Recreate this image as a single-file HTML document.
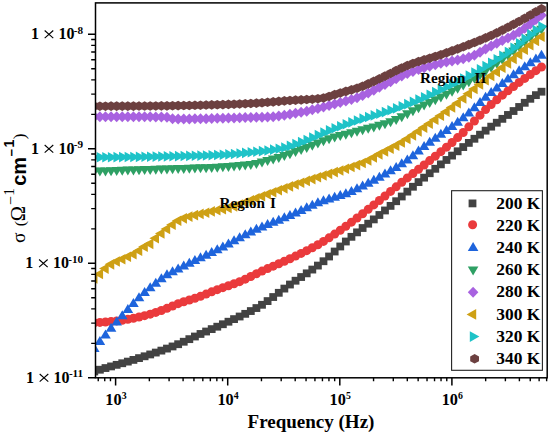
<!DOCTYPE html>
<html><head><meta charset="utf-8"><style>
html,body{margin:0;padding:0;background:#fff;}
body{width:550px;height:434px;overflow:hidden;}
svg{display:block;}
</style></head><body>
<svg width="550" height="434" viewBox="0 0 550 434" font-family="Liberation Serif" font-weight="bold">
<defs><clipPath id="c"><rect x="95.5" y="2.9" width="451.7" height="374.9"/></clipPath></defs>
<rect width="550" height="434" fill="#fff"/>
<g clip-path="url(#c)">
<g fill="#424242"><rect x="90.4" y="367.6" width="7.8" height="7.8"/><rect x="95.99" y="365.83" width="7.8" height="7.8"/><rect x="101.58" y="364.15" width="7.8" height="7.8"/><rect x="107.17" y="362.53" width="7.8" height="7.8"/><rect x="112.76" y="360.94" width="7.8" height="7.8"/><rect x="118.35" y="359.35" width="7.8" height="7.8"/><rect x="123.94" y="357.71" width="7.8" height="7.8"/><rect x="129.53" y="356" width="7.8" height="7.8"/><rect x="135.12" y="354.21" width="7.8" height="7.8"/><rect x="140.71" y="352.4" width="7.8" height="7.8"/><rect x="146.3" y="350.55" width="7.8" height="7.8"/><rect x="151.89" y="348.66" width="7.8" height="7.8"/><rect x="157.48" y="346.71" width="7.8" height="7.8"/><rect x="163.07" y="344.68" width="7.8" height="7.8"/><rect x="168.66" y="342.56" width="7.8" height="7.8"/><rect x="174.25" y="340.31" width="7.8" height="7.8"/><rect x="179.84" y="337.84" width="7.8" height="7.8"/><rect x="185.43" y="335.25" width="7.8" height="7.8"/><rect x="191.02" y="332.62" width="7.8" height="7.8"/><rect x="196.61" y="330.07" width="7.8" height="7.8"/><rect x="202.2" y="327.62" width="7.8" height="7.8"/><rect x="207.79" y="325.21" width="7.8" height="7.8"/><rect x="213.38" y="322.8" width="7.8" height="7.8"/><rect x="218.97" y="320.35" width="7.8" height="7.8"/><rect x="224.56" y="317.82" width="7.8" height="7.8"/><rect x="230.15" y="315.21" width="7.8" height="7.8"/><rect x="235.74" y="312.61" width="7.8" height="7.8"/><rect x="241.33" y="309.94" width="7.8" height="7.8"/><rect x="246.92" y="307.15" width="7.8" height="7.8"/><rect x="252.51" y="304.15" width="7.8" height="7.8"/><rect x="258.1" y="300.89" width="7.8" height="7.8"/><rect x="263.69" y="297.18" width="7.8" height="7.8"/><rect x="269.28" y="293.13" width="7.8" height="7.8"/><rect x="274.87" y="288.91" width="7.8" height="7.8"/><rect x="280.46" y="284.69" width="7.8" height="7.8"/><rect x="286.05" y="280.63" width="7.8" height="7.8"/><rect x="291.64" y="276.82" width="7.8" height="7.8"/><rect x="297.23" y="273.13" width="7.8" height="7.8"/><rect x="302.82" y="269.45" width="7.8" height="7.8"/><rect x="308.41" y="265.67" width="7.8" height="7.8"/><rect x="314" y="261.68" width="7.8" height="7.8"/><rect x="319.59" y="257.34" width="7.8" height="7.8"/><rect x="325.18" y="252.6" width="7.8" height="7.8"/><rect x="330.77" y="247.62" width="7.8" height="7.8"/><rect x="336.36" y="242.57" width="7.8" height="7.8"/><rect x="341.95" y="237.61" width="7.8" height="7.8"/><rect x="347.54" y="232.92" width="7.8" height="7.8"/><rect x="353.13" y="228.46" width="7.8" height="7.8"/><rect x="358.72" y="224.11" width="7.8" height="7.8"/><rect x="364.31" y="219.82" width="7.8" height="7.8"/><rect x="369.9" y="215.5" width="7.8" height="7.8"/><rect x="375.49" y="211.09" width="7.8" height="7.8"/><rect x="381.08" y="206.57" width="7.8" height="7.8"/><rect x="386.67" y="201.98" width="7.8" height="7.8"/><rect x="392.26" y="197.33" width="7.8" height="7.8"/><rect x="397.85" y="192.6" width="7.8" height="7.8"/><rect x="403.44" y="187.71" width="7.8" height="7.8"/><rect x="409.03" y="182.85" width="7.8" height="7.8"/><rect x="414.62" y="178.21" width="7.8" height="7.8"/><rect x="420.21" y="173.75" width="7.8" height="7.8"/><rect x="425.8" y="169.34" width="7.8" height="7.8"/><rect x="431.39" y="164.9" width="7.8" height="7.8"/><rect x="436.98" y="160.47" width="7.8" height="7.8"/><rect x="442.57" y="156.06" width="7.8" height="7.8"/><rect x="448.16" y="151.69" width="7.8" height="7.8"/><rect x="453.75" y="147.39" width="7.8" height="7.8"/><rect x="459.34" y="143.16" width="7.8" height="7.8"/><rect x="464.93" y="138.99" width="7.8" height="7.8"/><rect x="470.52" y="134.87" width="7.8" height="7.8"/><rect x="476.11" y="130.79" width="7.8" height="7.8"/><rect x="481.7" y="126.76" width="7.8" height="7.8"/><rect x="487.29" y="122.75" width="7.8" height="7.8"/><rect x="492.88" y="118.82" width="7.8" height="7.8"/><rect x="498.47" y="114.94" width="7.8" height="7.8"/><rect x="504.06" y="111.06" width="7.8" height="7.8"/><rect x="509.65" y="107.13" width="7.8" height="7.8"/><rect x="515.24" y="103.07" width="7.8" height="7.8"/><rect x="520.83" y="98.89" width="7.8" height="7.8"/><rect x="526.42" y="94.89" width="7.8" height="7.8"/><rect x="532.01" y="91.24" width="7.8" height="7.8"/><rect x="537.6" y="87.81" width="7.8" height="7.8"/></g>
<g fill="#ea3a3c"><circle cx="94.3" cy="322.8" r="4.5"/><circle cx="99.89" cy="322.44" r="4.5"/><circle cx="105.48" cy="322.01" r="4.5"/><circle cx="111.07" cy="321.49" r="4.5"/><circle cx="116.66" cy="320.9" r="4.5"/><circle cx="122.25" cy="320.2" r="4.5"/><circle cx="127.84" cy="319.31" r="4.5"/><circle cx="133.43" cy="318.24" r="4.5"/><circle cx="139.02" cy="317.02" r="4.5"/><circle cx="144.61" cy="315.69" r="4.5"/><circle cx="150.2" cy="314.19" r="4.5"/><circle cx="155.79" cy="312.43" r="4.5"/><circle cx="161.38" cy="310.51" r="4.5"/><circle cx="166.97" cy="308.31" r="4.5"/><circle cx="172.56" cy="305.95" r="4.5"/><circle cx="178.15" cy="303.69" r="4.5"/><circle cx="183.74" cy="301.72" r="4.5"/><circle cx="189.33" cy="299.96" r="4.5"/><circle cx="194.92" cy="298.22" r="4.5"/><circle cx="200.51" cy="296.31" r="4.5"/><circle cx="206.1" cy="294.12" r="4.5"/><circle cx="211.69" cy="291.81" r="4.5"/><circle cx="217.28" cy="289.65" r="4.5"/><circle cx="222.87" cy="287.68" r="4.5"/><circle cx="228.46" cy="285.77" r="4.5"/><circle cx="234.05" cy="283.8" r="4.5"/><circle cx="239.64" cy="281.65" r="4.5"/><circle cx="245.23" cy="279.18" r="4.5"/><circle cx="250.82" cy="276.46" r="4.5"/><circle cx="256.41" cy="273.7" r="4.5"/><circle cx="262" cy="271.09" r="4.5"/><circle cx="267.59" cy="268.61" r="4.5"/><circle cx="273.18" cy="266.19" r="4.5"/><circle cx="278.77" cy="263.77" r="4.5"/><circle cx="284.36" cy="261.3" r="4.5"/><circle cx="289.95" cy="258.72" r="4.5"/><circle cx="295.54" cy="256.08" r="4.5"/><circle cx="301.13" cy="253.4" r="4.5"/><circle cx="306.72" cy="250.64" r="4.5"/><circle cx="312.31" cy="247.76" r="4.5"/><circle cx="317.9" cy="244.7" r="4.5"/><circle cx="323.49" cy="241.42" r="4.5"/><circle cx="329.08" cy="237.87" r="4.5"/><circle cx="334.67" cy="234.11" r="4.5"/><circle cx="340.26" cy="230.2" r="4.5"/><circle cx="345.85" cy="226.2" r="4.5"/><circle cx="351.44" cy="222.16" r="4.5"/><circle cx="357.03" cy="218" r="4.5"/><circle cx="362.62" cy="213.72" r="4.5"/><circle cx="368.21" cy="209.35" r="4.5"/><circle cx="373.8" cy="204.93" r="4.5"/><circle cx="379.39" cy="200.48" r="4.5"/><circle cx="384.98" cy="195.99" r="4.5"/><circle cx="390.57" cy="191.41" r="4.5"/><circle cx="396.16" cy="186.82" r="4.5"/><circle cx="401.75" cy="182.3" r="4.5"/><circle cx="407.34" cy="177.9" r="4.5"/><circle cx="412.93" cy="173.61" r="4.5"/><circle cx="418.52" cy="169.33" r="4.5"/><circle cx="424.11" cy="165" r="4.5"/><circle cx="429.7" cy="160.56" r="4.5"/><circle cx="435.29" cy="156.13" r="4.5"/><circle cx="440.88" cy="151.67" r="4.5"/><circle cx="446.47" cy="147.13" r="4.5"/><circle cx="452.06" cy="142.46" r="4.5"/><circle cx="457.65" cy="137.61" r="4.5"/><circle cx="463.24" cy="132.47" r="4.5"/><circle cx="468.83" cy="126.87" r="4.5"/><circle cx="474.42" cy="121.03" r="4.5"/><circle cx="480.01" cy="115.18" r="4.5"/><circle cx="485.6" cy="109.58" r="4.5"/><circle cx="491.19" cy="104.45" r="4.5"/><circle cx="496.78" cy="99.7" r="4.5"/><circle cx="502.37" cy="95.17" r="4.5"/><circle cx="507.96" cy="90.81" r="4.5"/><circle cx="513.55" cy="86.59" r="4.5"/><circle cx="519.14" cy="82.44" r="4.5"/><circle cx="524.73" cy="78.38" r="4.5"/><circle cx="530.32" cy="74.45" r="4.5"/><circle cx="535.91" cy="70.64" r="4.5"/><circle cx="541.5" cy="66.98" r="4.5"/></g>
<g fill="#1e64dc"><path d="M94.3 343 L99.6 352 L89 352 Z"/><path d="M99.89 336.07 L105.19 345.07 L94.59 345.07 Z"/><path d="M105.48 329.49 L110.78 338.49 L100.18 338.49 Z"/><path d="M111.07 322.79 L116.37 331.79 L105.77 331.79 Z"/><path d="M116.66 316.43 L121.96 325.43 L111.36 325.43 Z"/><path d="M122.25 310.22 L127.55 319.22 L116.95 319.22 Z"/><path d="M127.84 304.04 L133.14 313.04 L122.54 313.04 Z"/><path d="M133.43 298.05 L138.73 307.05 L128.13 307.05 Z"/><path d="M139.02 292.29 L144.32 301.29 L133.72 301.29 Z"/><path d="M144.61 286.95 L149.91 295.95 L139.31 295.95 Z"/><path d="M150.2 282.23 L155.5 291.23 L144.9 291.23 Z"/><path d="M155.79 277.77 L161.09 286.77 L150.49 286.77 Z"/><path d="M161.38 273.21 L166.68 282.21 L156.08 282.21 Z"/><path d="M166.97 269.21 L172.27 278.21 L161.67 278.21 Z"/><path d="M172.56 266.23 L177.86 275.23 L167.26 275.23 Z"/><path d="M178.15 263.38 L183.45 272.38 L172.85 272.38 Z"/><path d="M183.74 260.56 L189.04 269.56 L178.44 269.56 Z"/><path d="M189.33 257.78 L194.63 266.78 L184.03 266.78 Z"/><path d="M194.92 255.04 L200.22 264.04 L189.62 264.04 Z"/><path d="M200.51 252.37 L205.81 261.37 L195.21 261.37 Z"/><path d="M206.1 249.76 L211.4 258.76 L200.8 258.76 Z"/><path d="M211.69 247.12 L216.99 256.12 L206.39 256.12 Z"/><path d="M217.28 244.35 L222.58 253.35 L211.98 253.35 Z"/><path d="M222.87 241.44 L228.17 250.44 L217.57 250.44 Z"/><path d="M228.46 238.42 L233.76 247.42 L223.16 247.42 Z"/><path d="M234.05 235.35 L239.35 244.35 L228.75 244.35 Z"/><path d="M239.64 232.3 L244.94 241.3 L234.34 241.3 Z"/><path d="M245.23 229.33 L250.53 238.33 L239.93 238.33 Z"/><path d="M250.82 226.49 L256.12 235.49 L245.52 235.49 Z"/><path d="M256.41 223.85 L261.71 232.85 L251.11 232.85 Z"/><path d="M262 221.41 L267.3 230.41 L256.7 230.41 Z"/><path d="M267.59 219.09 L272.89 228.09 L262.29 228.09 Z"/><path d="M273.18 216.85 L278.48 225.85 L267.88 225.85 Z"/><path d="M278.77 214.63 L284.07 223.63 L273.47 223.63 Z"/><path d="M284.36 212.37 L289.66 221.37 L279.06 221.37 Z"/><path d="M289.95 210.02 L295.25 219.02 L284.65 219.02 Z"/><path d="M295.54 207.51 L300.84 216.51 L290.24 216.51 Z"/><path d="M301.13 204.88 L306.43 213.88 L295.83 213.88 Z"/><path d="M306.72 202.24 L312.02 211.24 L301.42 211.24 Z"/><path d="M312.31 199.68 L317.61 208.68 L307.01 208.68 Z"/><path d="M317.9 197.32 L323.2 206.32 L312.6 206.32 Z"/><path d="M323.49 195.25 L328.79 204.25 L318.19 204.25 Z"/><path d="M329.08 193.46 L334.38 202.46 L323.78 202.46 Z"/><path d="M334.67 191.79 L339.97 200.79 L329.37 200.79 Z"/><path d="M340.26 190.08 L345.56 199.08 L334.96 199.08 Z"/><path d="M345.85 188.17 L351.15 197.17 L340.55 197.17 Z"/><path d="M351.44 185.91 L356.74 194.91 L346.14 194.91 Z"/><path d="M357.03 183.35 L362.33 192.35 L351.73 192.35 Z"/><path d="M362.62 180.57 L367.92 189.57 L357.32 189.57 Z"/><path d="M368.21 177.64 L373.51 186.64 L362.91 186.64 Z"/><path d="M373.8 174.64 L379.1 183.64 L368.5 183.64 Z"/><path d="M379.39 171.63 L384.69 180.63 L374.09 180.63 Z"/><path d="M384.98 168.52 L390.28 177.52 L379.68 177.52 Z"/><path d="M390.57 165.3 L395.87 174.3 L385.27 174.3 Z"/><path d="M396.16 161.92 L401.46 170.92 L390.86 170.92 Z"/><path d="M401.75 158.33 L407.05 167.33 L396.45 167.33 Z"/><path d="M407.34 154.43 L412.64 163.43 L402.04 163.43 Z"/><path d="M412.93 150.13 L418.23 159.13 L407.63 159.13 Z"/><path d="M418.52 145.61 L423.82 154.61 L413.22 154.61 Z"/><path d="M424.11 141.08 L429.41 150.08 L418.81 150.08 Z"/><path d="M429.7 136.72 L435 145.72 L424.4 145.72 Z"/><path d="M435.29 132.66 L440.59 141.66 L429.99 141.66 Z"/><path d="M440.88 128.78 L446.18 137.78 L435.58 137.78 Z"/><path d="M446.47 124.93 L451.77 133.93 L441.17 133.93 Z"/><path d="M452.06 120.99 L457.36 129.99 L446.76 129.99 Z"/><path d="M457.65 116.84 L462.95 125.84 L452.35 125.84 Z"/><path d="M463.24 112.33 L468.54 121.33 L457.94 121.33 Z"/><path d="M468.83 107.39 L474.13 116.39 L463.53 116.39 Z"/><path d="M474.42 102.2 L479.72 111.2 L469.12 111.2 Z"/><path d="M480.01 96.94 L485.31 105.94 L474.71 105.94 Z"/><path d="M485.6 91.82 L490.9 100.82 L480.3 100.82 Z"/><path d="M491.19 87.01 L496.49 96.01 L485.89 96.01 Z"/><path d="M496.78 82.41 L502.08 91.41 L491.48 91.41 Z"/><path d="M502.37 77.93 L507.67 86.93 L497.07 86.93 Z"/><path d="M507.96 73.56 L513.26 82.56 L502.66 82.56 Z"/><path d="M513.55 69.31 L518.85 78.31 L508.25 78.31 Z"/><path d="M519.14 65.16 L524.44 74.16 L513.84 74.16 Z"/><path d="M524.73 61.13 L530.03 70.13 L519.43 70.13 Z"/><path d="M530.32 57.21 L535.62 66.21 L525.02 66.21 Z"/><path d="M535.91 53.39 L541.21 62.39 L530.61 62.39 Z"/><path d="M541.5 49.66 L546.8 58.66 L536.2 58.66 Z"/></g>
<g fill="#2ea064"><path d="M94.3 176.83 L99.6 167.83 L89 167.83 Z"/><path d="M99.89 176.6 L105.19 167.6 L94.59 167.6 Z"/><path d="M105.48 176.39 L110.78 167.39 L100.18 167.39 Z"/><path d="M111.07 176.18 L116.37 167.18 L105.77 167.18 Z"/><path d="M116.66 175.98 L121.96 166.98 L111.36 166.98 Z"/><path d="M122.25 175.79 L127.55 166.79 L116.95 166.79 Z"/><path d="M127.84 175.61 L133.14 166.61 L122.54 166.61 Z"/><path d="M133.43 175.43 L138.73 166.43 L128.13 166.43 Z"/><path d="M139.02 175.26 L144.32 166.26 L133.72 166.26 Z"/><path d="M144.61 175.1 L149.91 166.1 L139.31 166.1 Z"/><path d="M150.2 174.94 L155.5 165.94 L144.9 165.94 Z"/><path d="M155.79 174.77 L161.09 165.77 L150.49 165.77 Z"/><path d="M161.38 174.61 L166.68 165.61 L156.08 165.61 Z"/><path d="M166.97 174.45 L172.27 165.45 L161.67 165.45 Z"/><path d="M172.56 174.28 L177.86 165.28 L167.26 165.28 Z"/><path d="M178.15 174.1 L183.45 165.1 L172.85 165.1 Z"/><path d="M183.74 173.92 L189.04 164.92 L178.44 164.92 Z"/><path d="M189.33 173.72 L194.63 164.72 L184.03 164.72 Z"/><path d="M194.92 173.53 L200.22 164.53 L189.62 164.53 Z"/><path d="M200.51 173.33 L205.81 164.33 L195.21 164.33 Z"/><path d="M206.1 173.13 L211.4 164.13 L200.8 164.13 Z"/><path d="M211.69 172.9 L216.99 163.9 L206.39 163.9 Z"/><path d="M217.28 172.64 L222.58 163.64 L211.98 163.64 Z"/><path d="M222.87 172.34 L228.17 163.34 L217.57 163.34 Z"/><path d="M228.46 172 L233.76 163 L223.16 163 Z"/><path d="M234.05 171.59 L239.35 162.59 L228.75 162.59 Z"/><path d="M239.64 171.12 L244.94 162.12 L234.34 162.12 Z"/><path d="M245.23 170.56 L250.53 161.56 L239.93 161.56 Z"/><path d="M250.82 169.89 L256.12 160.89 L245.52 160.89 Z"/><path d="M256.41 168.92 L261.71 159.92 L251.11 159.92 Z"/><path d="M262 167.62 L267.3 158.62 L256.7 158.62 Z"/><path d="M267.59 166.11 L272.89 157.11 L262.29 157.11 Z"/><path d="M273.18 164.52 L278.48 155.52 L267.88 155.52 Z"/><path d="M278.77 162.89 L284.07 153.89 L273.47 153.89 Z"/><path d="M284.36 161.08 L289.66 152.08 L279.06 152.08 Z"/><path d="M289.95 159.13 L295.25 150.13 L284.65 150.13 Z"/><path d="M295.54 157.11 L300.84 148.11 L290.24 148.11 Z"/><path d="M301.13 155.09 L306.43 146.09 L295.83 146.09 Z"/><path d="M306.72 152.94 L312.02 143.94 L301.42 143.94 Z"/><path d="M312.31 150.68 L317.61 141.68 L307.01 141.68 Z"/><path d="M317.9 148.41 L323.2 139.41 L312.6 139.41 Z"/><path d="M323.49 146.25 L328.79 137.25 L318.19 137.25 Z"/><path d="M329.08 144.29 L334.38 135.29 L323.78 135.29 Z"/><path d="M334.67 142.6 L339.97 133.6 L329.37 133.6 Z"/><path d="M340.26 141.07 L345.56 132.07 L334.96 132.07 Z"/><path d="M345.85 139.64 L351.15 130.64 L340.55 130.64 Z"/><path d="M351.44 138.23 L356.74 129.23 L346.14 129.23 Z"/><path d="M357.03 136.8 L362.33 127.8 L351.73 127.8 Z"/><path d="M362.62 135.29 L367.92 126.29 L357.32 126.29 Z"/><path d="M368.21 133.84 L373.51 124.84 L362.91 124.84 Z"/><path d="M373.8 132.39 L379.1 123.39 L368.5 123.39 Z"/><path d="M379.39 130.87 L384.69 121.87 L374.09 121.87 Z"/><path d="M384.98 129.2 L390.28 120.2 L379.68 120.2 Z"/><path d="M390.57 127.29 L395.87 118.29 L385.27 118.29 Z"/><path d="M396.16 124.95 L401.46 115.95 L390.86 115.95 Z"/><path d="M401.75 122.2 L407.05 113.2 L396.45 113.2 Z"/><path d="M407.34 119.21 L412.64 110.21 L402.04 110.21 Z"/><path d="M412.93 116.17 L418.23 107.17 L407.63 107.17 Z"/><path d="M418.52 113.24 L423.82 104.24 L413.22 104.24 Z"/><path d="M424.11 110.52 L429.41 101.52 L418.81 101.52 Z"/><path d="M429.7 107.89 L435 98.89 L424.4 98.89 Z"/><path d="M435.29 105.27 L440.59 96.27 L429.99 96.27 Z"/><path d="M440.88 102.58 L446.18 93.58 L435.58 93.58 Z"/><path d="M446.47 99.74 L451.77 90.74 L441.17 90.74 Z"/><path d="M452.06 96.77 L457.36 87.77 L446.76 87.77 Z"/><path d="M457.65 93.7 L462.95 84.7 L452.35 84.7 Z"/><path d="M463.24 90.51 L468.54 81.51 L457.94 81.51 Z"/><path d="M468.83 87.21 L474.13 78.21 L463.53 78.21 Z"/><path d="M474.42 83.77 L479.72 74.77 L469.12 74.77 Z"/><path d="M480.01 80.2 L485.31 71.2 L474.71 71.2 Z"/><path d="M485.6 76.5 L490.9 67.5 L480.3 67.5 Z"/><path d="M491.19 72.71 L496.49 63.71 L485.89 63.71 Z"/><path d="M496.78 68.83 L502.08 59.83 L491.48 59.83 Z"/><path d="M502.37 64.88 L507.67 55.88 L497.07 55.88 Z"/><path d="M507.96 60.84 L513.26 51.84 L502.66 51.84 Z"/><path d="M513.55 56.56 L518.85 47.56 L508.25 47.56 Z"/><path d="M519.14 52.11 L524.44 43.11 L513.84 43.11 Z"/><path d="M524.73 47.59 L530.03 38.59 L519.43 38.59 Z"/><path d="M530.32 43.12 L535.62 34.12 L525.02 34.12 Z"/><path d="M535.91 38.79 L541.21 29.79 L530.61 29.79 Z"/><path d="M541.5 34.72 L546.8 25.72 L536.2 25.72 Z"/></g>
<g fill="#a862e0"><path d="M94.3 111.2 L99.6 116.7 L94.3 122.2 L89 116.7 Z"/><path d="M99.89 111.2 L105.19 116.7 L99.89 122.2 L94.59 116.7 Z"/><path d="M105.48 111.21 L110.78 116.71 L105.48 122.21 L100.18 116.71 Z"/><path d="M111.07 111.21 L116.37 116.71 L111.07 122.21 L105.77 116.71 Z"/><path d="M116.66 111.22 L121.96 116.72 L116.66 122.22 L111.36 116.72 Z"/><path d="M122.25 111.24 L127.55 116.74 L122.25 122.24 L116.95 116.74 Z"/><path d="M127.84 111.25 L133.14 116.75 L127.84 122.25 L122.54 116.75 Z"/><path d="M133.43 111.28 L138.73 116.78 L133.43 122.28 L128.13 116.78 Z"/><path d="M139.02 111.3 L144.32 116.8 L139.02 122.3 L133.72 116.8 Z"/><path d="M144.61 111.33 L149.91 116.83 L144.61 122.33 L139.31 116.83 Z"/><path d="M150.2 111.37 L155.5 116.87 L150.2 122.37 L144.9 116.87 Z"/><path d="M155.79 111.41 L161.09 116.91 L155.79 122.41 L150.49 116.91 Z"/><path d="M161.38 111.46 L166.68 116.96 L161.38 122.46 L156.08 116.96 Z"/><path d="M166.97 111.72 L172.27 117.22 L166.97 122.72 L161.67 117.22 Z"/><path d="M172.56 113.21 L177.86 118.71 L172.56 124.21 L167.26 118.71 Z"/><path d="M178.15 113.5 L183.45 119 L178.15 124.5 L172.85 119 Z"/><path d="M183.74 113.47 L189.04 118.97 L183.74 124.47 L178.44 118.97 Z"/><path d="M189.33 113.41 L194.63 118.91 L189.33 124.41 L184.03 118.91 Z"/><path d="M194.92 113.34 L200.22 118.84 L194.92 124.34 L189.62 118.84 Z"/><path d="M200.51 113.24 L205.81 118.74 L200.51 124.24 L195.21 118.74 Z"/><path d="M206.1 113.13 L211.4 118.63 L206.1 124.13 L200.8 118.63 Z"/><path d="M211.69 113 L216.99 118.5 L211.69 124 L206.39 118.5 Z"/><path d="M217.28 112.87 L222.58 118.37 L217.28 123.87 L211.98 118.37 Z"/><path d="M222.87 112.72 L228.17 118.22 L222.87 123.72 L217.57 118.22 Z"/><path d="M228.46 112.57 L233.76 118.07 L228.46 123.57 L223.16 118.07 Z"/><path d="M234.05 112.42 L239.35 117.92 L234.05 123.42 L228.75 117.92 Z"/><path d="M239.64 112.27 L244.94 117.77 L239.64 123.27 L234.34 117.77 Z"/><path d="M245.23 112.12 L250.53 117.62 L245.23 123.12 L239.93 117.62 Z"/><path d="M250.82 111.98 L256.12 117.48 L250.82 122.98 L245.52 117.48 Z"/><path d="M256.41 111.85 L261.71 117.35 L256.41 122.85 L251.11 117.35 Z"/><path d="M262 111.7 L267.3 117.2 L262 122.7 L256.7 117.2 Z"/><path d="M267.59 111.51 L272.89 117.01 L267.59 122.51 L262.29 117.01 Z"/><path d="M273.18 111.2 L278.48 116.7 L273.18 122.2 L267.88 116.7 Z"/><path d="M278.77 110.61 L284.07 116.11 L278.77 121.61 L273.47 116.11 Z"/><path d="M284.36 109.81 L289.66 115.31 L284.36 120.81 L279.06 115.31 Z"/><path d="M289.95 108.86 L295.25 114.36 L289.95 119.86 L284.65 114.36 Z"/><path d="M295.54 107.83 L300.84 113.33 L295.54 118.83 L290.24 113.33 Z"/><path d="M301.13 106.79 L306.43 112.29 L301.13 117.79 L295.83 112.29 Z"/><path d="M306.72 105.63 L312.02 111.13 L306.72 116.63 L301.42 111.13 Z"/><path d="M312.31 104.32 L317.61 109.82 L312.31 115.32 L307.01 109.82 Z"/><path d="M317.9 102.91 L323.2 108.41 L317.9 113.91 L312.6 108.41 Z"/><path d="M323.49 101.43 L328.79 106.93 L323.49 112.43 L318.19 106.93 Z"/><path d="M329.08 99.94 L334.38 105.44 L329.08 110.94 L323.78 105.44 Z"/><path d="M334.67 98.49 L339.97 103.99 L334.67 109.49 L329.37 103.99 Z"/><path d="M340.26 97.04 L345.56 102.54 L340.26 108.04 L334.96 102.54 Z"/><path d="M345.85 95.55 L351.15 101.05 L345.85 106.55 L340.55 101.05 Z"/><path d="M351.44 93.94 L356.74 99.44 L351.44 104.94 L346.14 99.44 Z"/><path d="M357.03 92.15 L362.33 97.65 L357.03 103.15 L351.73 97.65 Z"/><path d="M362.62 90.07 L367.92 95.57 L362.62 101.07 L357.32 95.57 Z"/><path d="M368.21 87.49 L373.51 92.99 L368.21 98.49 L362.91 92.99 Z"/><path d="M373.8 84.63 L379.1 90.13 L373.8 95.63 L368.5 90.13 Z"/><path d="M379.39 81.8 L384.69 87.3 L379.39 92.8 L374.09 87.3 Z"/><path d="M384.98 79.02 L390.28 84.52 L384.98 90.02 L379.68 84.52 Z"/><path d="M390.57 76.13 L395.87 81.63 L390.57 87.13 L385.27 81.63 Z"/><path d="M396.16 73.24 L401.46 78.74 L396.16 84.24 L390.86 78.74 Z"/><path d="M401.75 70.5 L407.05 76 L401.75 81.5 L396.45 76 Z"/><path d="M407.34 68.04 L412.64 73.54 L407.34 79.04 L402.04 73.54 Z"/><path d="M412.93 65.94 L418.23 71.44 L412.93 76.94 L407.63 71.44 Z"/><path d="M418.52 64.05 L423.82 69.55 L418.52 75.05 L413.22 69.55 Z"/><path d="M424.11 62.32 L429.41 67.82 L424.11 73.32 L418.81 67.82 Z"/><path d="M429.7 60.71 L435 66.21 L429.7 71.71 L424.4 66.21 Z"/><path d="M435.29 59.21 L440.59 64.71 L435.29 70.21 L429.99 64.71 Z"/><path d="M440.88 57.78 L446.18 63.28 L440.88 68.78 L435.58 63.28 Z"/><path d="M446.47 56.57 L451.77 62.07 L446.47 67.57 L441.17 62.07 Z"/><path d="M452.06 55.52 L457.36 61.02 L452.06 66.52 L446.76 61.02 Z"/><path d="M457.65 54.49 L462.95 59.99 L457.65 65.49 L452.35 59.99 Z"/><path d="M463.24 53.32 L468.54 58.82 L463.24 64.32 L457.94 58.82 Z"/><path d="M468.83 51.86 L474.13 57.36 L468.83 62.86 L463.53 57.36 Z"/><path d="M474.42 49.73 L479.72 55.23 L474.42 60.73 L469.12 55.23 Z"/><path d="M480.01 46.74 L485.31 52.24 L480.01 57.74 L474.71 52.24 Z"/><path d="M485.6 43.44 L490.9 48.94 L485.6 54.44 L480.3 48.94 Z"/><path d="M491.19 40.4 L496.49 45.9 L491.19 51.4 L485.89 45.9 Z"/><path d="M496.78 37.68 L502.08 43.18 L496.78 48.68 L491.48 43.18 Z"/><path d="M502.37 35.07 L507.67 40.57 L502.37 46.07 L497.07 40.57 Z"/><path d="M507.96 32.43 L513.26 37.93 L507.96 43.43 L502.66 37.93 Z"/><path d="M513.55 29.63 L518.85 35.13 L513.55 40.63 L508.25 35.13 Z"/><path d="M519.14 26.51 L524.44 32.01 L519.14 37.51 L513.84 32.01 Z"/><path d="M524.73 22.83 L530.03 28.33 L524.73 33.83 L519.43 28.33 Z"/><path d="M530.32 18.54 L535.62 24.04 L530.32 29.54 L525.02 24.04 Z"/><path d="M535.91 14.04 L541.21 19.54 L535.91 25.04 L530.61 19.54 Z"/><path d="M541.5 9.74 L546.8 15.24 L541.5 20.74 L536.2 15.24 Z"/></g>
<g fill="#cea014"><path d="M87.9 278.5 L97.5 273.2 L97.5 283.8 Z"/><path d="M93.49 273.97 L103.09 268.67 L103.09 279.27 Z"/><path d="M99.08 268.58 L108.68 263.28 L108.68 273.88 Z"/><path d="M104.67 264.36 L114.27 259.06 L114.27 269.66 Z"/><path d="M110.26 261.57 L119.86 256.27 L119.86 266.87 Z"/><path d="M115.85 259.21 L125.45 253.91 L125.45 264.51 Z"/><path d="M121.44 256.77 L131.04 251.47 L131.04 262.07 Z"/><path d="M127.03 254.31 L136.63 249.01 L136.63 259.61 Z"/><path d="M132.62 250.78 L142.22 245.48 L142.22 256.08 Z"/><path d="M138.21 246.73 L147.81 241.43 L147.81 252.03 Z"/><path d="M143.8 243.86 L153.4 238.56 L153.4 249.16 Z"/><path d="M149.39 238.27 L158.99 232.97 L158.99 243.57 Z"/><path d="M154.98 233.43 L164.58 228.13 L164.58 238.73 Z"/><path d="M160.57 228.94 L170.17 223.64 L170.17 234.24 Z"/><path d="M166.16 224.72 L175.76 219.42 L175.76 230.02 Z"/><path d="M171.75 220.8 L181.35 215.5 L181.35 226.1 Z"/><path d="M177.34 218.36 L186.94 213.06 L186.94 223.66 Z"/><path d="M182.93 216.58 L192.53 211.28 L192.53 221.88 Z"/><path d="M188.52 215.14 L198.12 209.84 L198.12 220.44 Z"/><path d="M194.11 213.89 L203.71 208.59 L203.71 219.19 Z"/><path d="M199.7 212.68 L209.3 207.38 L209.3 217.98 Z"/><path d="M205.29 211.41 L214.89 206.11 L214.89 216.71 Z"/><path d="M210.88 210.25 L220.48 204.95 L220.48 215.55 Z"/><path d="M216.47 209.14 L226.07 203.84 L226.07 214.44 Z"/><path d="M222.06 207.89 L231.66 202.59 L231.66 213.19 Z"/><path d="M227.65 206.35 L237.25 201.05 L237.25 211.65 Z"/><path d="M233.24 204.52 L242.84 199.22 L242.84 209.82 Z"/><path d="M238.83 202.5 L248.43 197.2 L248.43 207.8 Z"/><path d="M244.42 200.39 L254.02 195.09 L254.02 205.69 Z"/><path d="M250.01 198.29 L259.61 192.99 L259.61 203.59 Z"/><path d="M255.6 196.29 L265.2 190.99 L265.2 201.59 Z"/><path d="M261.19 194.3 L270.79 189 L270.79 199.6 Z"/><path d="M266.78 192.3 L276.38 187 L276.38 197.6 Z"/><path d="M272.37 190.3 L281.97 185 L281.97 195.6 Z"/><path d="M277.96 188.33 L287.56 183.03 L287.56 193.63 Z"/><path d="M283.55 186.42 L293.15 181.12 L293.15 191.72 Z"/><path d="M289.14 184.55 L298.74 179.25 L298.74 189.85 Z"/><path d="M294.73 182.71 L304.33 177.41 L304.33 188.01 Z"/><path d="M300.32 180.89 L309.92 175.59 L309.92 186.19 Z"/><path d="M305.91 179.1 L315.51 173.8 L315.51 184.4 Z"/><path d="M311.5 177.32 L321.1 172.02 L321.1 182.62 Z"/><path d="M317.09 175.57 L326.69 170.27 L326.69 180.87 Z"/><path d="M322.68 173.83 L332.28 168.53 L332.28 179.13 Z"/><path d="M328.27 172.1 L337.87 166.8 L337.87 177.4 Z"/><path d="M333.86 170.44 L343.46 165.14 L343.46 175.74 Z"/><path d="M339.45 168.8 L349.05 163.5 L349.05 174.1 Z"/><path d="M345.04 167.02 L354.64 161.72 L354.64 172.32 Z"/><path d="M350.63 165.11 L360.23 159.81 L360.23 170.41 Z"/><path d="M356.22 163 L365.82 157.7 L365.82 168.3 Z"/><path d="M361.81 160.48 L371.41 155.18 L371.41 165.78 Z"/><path d="M367.4 157.45 L377 152.15 L377 162.75 Z"/><path d="M372.99 154.33 L382.59 149.03 L382.59 159.63 Z"/><path d="M378.58 151.43 L388.18 146.13 L388.18 156.73 Z"/><path d="M384.17 148.59 L393.77 143.29 L393.77 153.89 Z"/><path d="M389.76 145.66 L399.36 140.36 L399.36 150.96 Z"/><path d="M395.35 142.47 L404.95 137.17 L404.95 147.77 Z"/><path d="M400.94 139 L410.54 133.7 L410.54 144.3 Z"/><path d="M406.53 135.33 L416.13 130.03 L416.13 140.63 Z"/><path d="M412.12 131.51 L421.72 126.21 L421.72 136.81 Z"/><path d="M417.71 127.62 L427.31 122.32 L427.31 132.92 Z"/><path d="M423.3 123.71 L432.9 118.41 L432.9 129.01 Z"/><path d="M428.89 119.79 L438.49 114.49 L438.49 125.09 Z"/><path d="M434.48 115.82 L444.08 110.52 L444.08 121.12 Z"/><path d="M440.07 111.75 L449.67 106.45 L449.67 117.05 Z"/><path d="M445.66 107.56 L455.26 102.26 L455.26 112.86 Z"/><path d="M451.25 103.2 L460.85 97.9 L460.85 108.5 Z"/><path d="M456.84 98.57 L466.44 93.27 L466.44 103.87 Z"/><path d="M462.43 93.8 L472.03 88.5 L472.03 99.1 Z"/><path d="M468.02 89.05 L477.62 83.75 L477.62 94.35 Z"/><path d="M473.61 84.49 L483.21 79.19 L483.21 89.79 Z"/><path d="M479.2 80.2 L488.8 74.9 L488.8 85.5 Z"/><path d="M484.79 76.05 L494.39 70.75 L494.39 81.35 Z"/><path d="M490.38 71.95 L499.98 66.65 L499.98 77.25 Z"/><path d="M495.97 67.8 L505.57 62.5 L505.57 73.1 Z"/><path d="M501.56 63.5 L511.16 58.2 L511.16 68.8 Z"/><path d="M507.15 59 L516.75 53.7 L516.75 64.3 Z"/><path d="M512.74 54.39 L522.34 49.09 L522.34 59.69 Z"/><path d="M518.33 49.77 L527.93 44.47 L527.93 55.07 Z"/><path d="M523.92 45.22 L533.52 39.92 L533.52 50.52 Z"/><path d="M529.51 40.84 L539.11 35.54 L539.11 46.14 Z"/><path d="M535.1 36.73 L544.7 31.43 L544.7 42.03 Z"/></g>
<g fill="#1ec3c8"><path d="M100.7 157.3 L91.1 152 L91.1 162.6 Z"/><path d="M106.29 157.28 L96.69 151.98 L96.69 162.58 Z"/><path d="M111.88 157.25 L102.28 151.95 L102.28 162.55 Z"/><path d="M117.47 157.21 L107.87 151.91 L107.87 162.51 Z"/><path d="M123.06 157.17 L113.46 151.87 L113.46 162.47 Z"/><path d="M128.65 157.11 L119.05 151.81 L119.05 162.41 Z"/><path d="M134.24 157.04 L124.64 151.74 L124.64 162.34 Z"/><path d="M139.83 156.96 L130.23 151.66 L130.23 162.26 Z"/><path d="M145.42 156.88 L135.82 151.58 L135.82 162.18 Z"/><path d="M151.01 156.79 L141.41 151.49 L141.41 162.09 Z"/><path d="M156.6 156.7 L147 151.4 L147 162 Z"/><path d="M162.19 156.59 L152.59 151.29 L152.59 161.89 Z"/><path d="M167.78 156.49 L158.18 151.19 L158.18 161.79 Z"/><path d="M173.37 156.38 L163.77 151.08 L163.77 161.68 Z"/><path d="M178.96 156.27 L169.36 150.97 L169.36 161.57 Z"/><path d="M184.55 156.15 L174.95 150.85 L174.95 161.45 Z"/><path d="M190.14 156.03 L180.54 150.73 L180.54 161.33 Z"/><path d="M195.73 155.91 L186.13 150.61 L186.13 161.21 Z"/><path d="M201.32 155.79 L191.72 150.49 L191.72 161.09 Z"/><path d="M206.91 155.64 L197.31 150.34 L197.31 160.94 Z"/><path d="M212.5 155.46 L202.9 150.16 L202.9 160.76 Z"/><path d="M218.09 155.26 L208.49 149.96 L208.49 160.56 Z"/><path d="M223.68 155.03 L214.08 149.73 L214.08 160.33 Z"/><path d="M229.27 154.75 L219.67 149.45 L219.67 160.05 Z"/><path d="M234.86 154.38 L225.26 149.08 L225.26 159.68 Z"/><path d="M240.45 153.93 L230.85 148.63 L230.85 159.23 Z"/><path d="M246.04 153.43 L236.44 148.13 L236.44 158.73 Z"/><path d="M251.63 152.88 L242.03 147.58 L242.03 158.18 Z"/><path d="M257.22 152.32 L247.62 147.02 L247.62 157.62 Z"/><path d="M262.81 151.74 L253.21 146.44 L253.21 157.04 Z"/><path d="M268.4 151.13 L258.8 145.83 L258.8 156.43 Z"/><path d="M273.99 150.44 L264.39 145.14 L264.39 155.74 Z"/><path d="M279.58 149.65 L269.98 144.35 L269.98 154.95 Z"/><path d="M285.17 148.72 L275.57 143.42 L275.57 154.02 Z"/><path d="M290.76 147.53 L281.16 142.23 L281.16 152.83 Z"/><path d="M296.35 145.91 L286.75 140.61 L286.75 151.21 Z"/><path d="M301.94 144.05 L292.34 138.75 L292.34 149.35 Z"/><path d="M307.53 142.1 L297.93 136.8 L297.93 147.4 Z"/><path d="M313.12 139.95 L303.52 134.65 L303.52 145.25 Z"/><path d="M318.71 137.57 L309.11 132.27 L309.11 142.87 Z"/><path d="M324.3 135.09 L314.7 129.79 L314.7 140.39 Z"/><path d="M329.89 132.65 L320.29 127.35 L320.29 137.95 Z"/><path d="M335.48 130.35 L325.88 125.05 L325.88 135.65 Z"/><path d="M341.07 128.25 L331.47 122.95 L331.47 133.55 Z"/><path d="M346.66 126.21 L337.06 120.91 L337.06 131.51 Z"/><path d="M352.25 124.24 L342.65 118.94 L342.65 129.54 Z"/><path d="M357.84 122.33 L348.24 117.03 L348.24 127.63 Z"/><path d="M363.43 120.47 L353.83 115.17 L353.83 125.77 Z"/><path d="M369.02 118.67 L359.42 113.37 L359.42 123.97 Z"/><path d="M374.61 117 L365.01 111.7 L365.01 122.3 Z"/><path d="M380.2 115.39 L370.6 110.09 L370.6 120.69 Z"/><path d="M385.79 113.79 L376.19 108.49 L376.19 119.09 Z"/><path d="M391.38 112.12 L381.78 106.82 L381.78 117.42 Z"/><path d="M396.97 110.31 L387.37 105.01 L387.37 115.61 Z"/><path d="M402.56 108.36 L392.96 103.06 L392.96 113.66 Z"/><path d="M408.15 106.3 L398.55 101 L398.55 111.6 Z"/><path d="M413.74 104.15 L404.14 98.85 L404.14 109.45 Z"/><path d="M419.33 101.92 L409.73 96.62 L409.73 107.22 Z"/><path d="M424.92 99.62 L415.32 94.32 L415.32 104.92 Z"/><path d="M430.51 97.24 L420.91 91.94 L420.91 102.54 Z"/><path d="M436.1 94.73 L426.5 89.43 L426.5 100.03 Z"/><path d="M441.69 92.13 L432.09 86.83 L432.09 97.43 Z"/><path d="M447.28 89.47 L437.68 84.17 L437.68 94.77 Z"/><path d="M452.87 86.8 L443.27 81.5 L443.27 92.1 Z"/><path d="M458.46 84.11 L448.86 78.81 L448.86 89.41 Z"/><path d="M464.05 81.37 L454.45 76.07 L454.45 86.67 Z"/><path d="M469.64 78.56 L460.04 73.26 L460.04 83.86 Z"/><path d="M475.23 75.63 L465.63 70.33 L465.63 80.93 Z"/><path d="M480.82 72.57 L471.22 67.27 L471.22 77.87 Z"/><path d="M486.41 69.41 L476.81 64.11 L476.81 74.71 Z"/><path d="M492 66.16 L482.4 60.86 L482.4 71.46 Z"/><path d="M497.59 62.79 L487.99 57.49 L487.99 68.09 Z"/><path d="M503.18 59.32 L493.58 54.02 L493.58 64.62 Z"/><path d="M508.77 55.73 L499.17 50.43 L499.17 61.03 Z"/><path d="M514.36 51.97 L504.76 46.67 L504.76 57.27 Z"/><path d="M519.95 47.81 L510.35 42.51 L510.35 53.11 Z"/><path d="M525.54 43.37 L515.94 38.07 L515.94 48.67 Z"/><path d="M531.13 38.85 L521.53 33.55 L521.53 44.15 Z"/><path d="M536.72 34.41 L527.12 29.11 L527.12 39.71 Z"/><path d="M542.31 30.23 L532.71 24.93 L532.71 35.53 Z"/><path d="M547.9 26.49 L538.3 21.19 L538.3 31.79 Z"/></g>
<g fill="#6c4040"><path d="M94.3 101.4 L98.7 103.8 L98.7 108.6 L94.3 111 L89.9 108.6 L89.9 103.8 Z"/><path d="M99.89 101.39 L104.29 103.79 L104.29 108.59 L99.89 110.99 L95.49 108.59 L95.49 103.79 Z"/><path d="M105.48 101.38 L109.88 103.78 L109.88 108.58 L105.48 110.98 L101.08 108.58 L101.08 103.78 Z"/><path d="M111.07 101.37 L115.47 103.77 L115.47 108.57 L111.07 110.97 L106.67 108.57 L106.67 103.77 Z"/><path d="M116.66 101.35 L121.06 103.75 L121.06 108.55 L116.66 110.95 L112.26 108.55 L112.26 103.75 Z"/><path d="M122.25 101.33 L126.65 103.73 L126.65 108.53 L122.25 110.93 L117.85 108.53 L117.85 103.73 Z"/><path d="M127.84 101.31 L132.24 103.71 L132.24 108.51 L127.84 110.91 L123.44 108.51 L123.44 103.71 Z"/><path d="M133.43 101.29 L137.83 103.69 L137.83 108.49 L133.43 110.89 L129.03 108.49 L129.03 103.69 Z"/><path d="M139.02 101.26 L143.42 103.66 L143.42 108.46 L139.02 110.86 L134.62 108.46 L134.62 103.66 Z"/><path d="M144.61 101.23 L149.01 103.63 L149.01 108.43 L144.61 110.83 L140.21 108.43 L140.21 103.63 Z"/><path d="M150.2 101.2 L154.6 103.6 L154.6 108.4 L150.2 110.8 L145.8 108.4 L145.8 103.6 Z"/><path d="M155.79 101.16 L160.19 103.56 L160.19 108.36 L155.79 110.76 L151.39 108.36 L151.39 103.56 Z"/><path d="M161.38 101.1 L165.78 103.5 L165.78 108.3 L161.38 110.7 L156.98 108.3 L156.98 103.5 Z"/><path d="M166.97 101.03 L171.37 103.43 L171.37 108.23 L166.97 110.63 L162.57 108.23 L162.57 103.43 Z"/><path d="M172.56 100.94 L176.96 103.34 L176.96 108.14 L172.56 110.54 L168.16 108.14 L168.16 103.34 Z"/><path d="M178.15 100.85 L182.55 103.25 L182.55 108.05 L178.15 110.45 L173.75 108.05 L173.75 103.25 Z"/><path d="M183.74 100.74 L188.14 103.14 L188.14 107.94 L183.74 110.34 L179.34 107.94 L179.34 103.14 Z"/><path d="M189.33 100.63 L193.73 103.03 L193.73 107.83 L189.33 110.23 L184.93 107.83 L184.93 103.03 Z"/><path d="M194.92 100.51 L199.32 102.91 L199.32 107.71 L194.92 110.11 L190.52 107.71 L190.52 102.91 Z"/><path d="M200.51 100.39 L204.91 102.79 L204.91 107.59 L200.51 109.99 L196.11 107.59 L196.11 102.79 Z"/><path d="M206.1 100.26 L210.5 102.66 L210.5 107.46 L206.1 109.86 L201.7 107.46 L201.7 102.66 Z"/><path d="M211.69 100.11 L216.09 102.51 L216.09 107.31 L211.69 109.71 L207.29 107.31 L207.29 102.51 Z"/><path d="M217.28 99.96 L221.68 102.36 L221.68 107.16 L217.28 109.56 L212.88 107.16 L212.88 102.36 Z"/><path d="M222.87 99.78 L227.27 102.18 L227.27 106.98 L222.87 109.38 L218.47 106.98 L218.47 102.18 Z"/><path d="M228.46 99.59 L232.86 101.99 L232.86 106.79 L228.46 109.19 L224.06 106.79 L224.06 101.99 Z"/><path d="M234.05 99.38 L238.45 101.78 L238.45 106.58 L234.05 108.98 L229.65 106.58 L229.65 101.78 Z"/><path d="M239.64 99.16 L244.04 101.56 L244.04 106.36 L239.64 108.76 L235.24 106.36 L235.24 101.56 Z"/><path d="M245.23 98.92 L249.63 101.32 L249.63 106.12 L245.23 108.52 L240.83 106.12 L240.83 101.32 Z"/><path d="M250.82 98.66 L255.22 101.06 L255.22 105.86 L250.82 108.26 L246.42 105.86 L246.42 101.06 Z"/><path d="M256.41 98.34 L260.81 100.74 L260.81 105.54 L256.41 107.94 L252.01 105.54 L252.01 100.74 Z"/><path d="M262 97.95 L266.4 100.35 L266.4 105.15 L262 107.55 L257.6 105.15 L257.6 100.35 Z"/><path d="M267.59 97.51 L271.99 99.91 L271.99 104.71 L267.59 107.11 L263.19 104.71 L263.19 99.91 Z"/><path d="M273.18 97.05 L277.58 99.45 L277.58 104.25 L273.18 106.65 L268.78 104.25 L268.78 99.45 Z"/><path d="M278.77 96.58 L283.17 98.98 L283.17 103.78 L278.77 106.18 L274.37 103.78 L274.37 98.98 Z"/><path d="M284.36 96.12 L288.76 98.52 L288.76 103.32 L284.36 105.72 L279.96 103.32 L279.96 98.52 Z"/><path d="M289.95 95.7 L294.35 98.1 L294.35 102.9 L289.95 105.3 L285.55 102.9 L285.55 98.1 Z"/><path d="M295.54 95.35 L299.94 97.75 L299.94 102.55 L295.54 104.95 L291.14 102.55 L291.14 97.75 Z"/><path d="M301.13 95.06 L305.53 97.46 L305.53 102.26 L301.13 104.66 L296.73 102.26 L296.73 97.46 Z"/><path d="M306.72 94.76 L311.12 97.16 L311.12 101.96 L306.72 104.36 L302.32 101.96 L302.32 97.16 Z"/><path d="M312.31 94.4 L316.71 96.8 L316.71 101.6 L312.31 104 L307.91 101.6 L307.91 96.8 Z"/><path d="M317.9 93.92 L322.3 96.32 L322.3 101.12 L317.9 103.52 L313.5 101.12 L313.5 96.32 Z"/><path d="M323.49 93.13 L327.89 95.53 L327.89 100.33 L323.49 102.73 L319.09 100.33 L319.09 95.53 Z"/><path d="M329.08 91.66 L333.48 94.06 L333.48 98.86 L329.08 101.26 L324.68 98.86 L324.68 94.06 Z"/><path d="M334.67 89.86 L339.07 92.26 L339.07 97.06 L334.67 99.46 L330.27 97.06 L330.27 92.26 Z"/><path d="M340.26 88.13 L344.66 90.53 L344.66 95.33 L340.26 97.73 L335.86 95.33 L335.86 90.53 Z"/><path d="M345.85 86.6 L350.25 89 L350.25 93.8 L345.85 96.2 L341.45 93.8 L341.45 89 Z"/><path d="M351.44 85.06 L355.84 87.46 L355.84 92.26 L351.44 94.66 L347.04 92.26 L347.04 87.46 Z"/><path d="M357.03 83.39 L361.43 85.79 L361.43 90.59 L357.03 92.99 L352.63 90.59 L352.63 85.79 Z"/><path d="M362.62 81.44 L367.02 83.84 L367.02 88.64 L362.62 91.04 L358.22 88.64 L358.22 83.84 Z"/><path d="M368.21 79.11 L372.61 81.51 L372.61 86.31 L368.21 88.71 L363.81 86.31 L363.81 81.51 Z"/><path d="M373.8 76.55 L378.2 78.95 L378.2 83.75 L373.8 86.15 L369.4 83.75 L369.4 78.95 Z"/><path d="M379.39 73.98 L383.79 76.38 L383.79 81.18 L379.39 83.58 L374.99 81.18 L374.99 76.38 Z"/><path d="M384.98 71.37 L389.38 73.77 L389.38 78.57 L384.98 80.97 L380.58 78.57 L380.58 73.77 Z"/><path d="M390.57 68.63 L394.97 71.03 L394.97 75.83 L390.57 78.23 L386.17 75.83 L386.17 71.03 Z"/><path d="M396.16 65.86 L400.56 68.26 L400.56 73.06 L396.16 75.46 L391.76 73.06 L391.76 68.26 Z"/><path d="M401.75 63.19 L406.15 65.59 L406.15 70.39 L401.75 72.79 L397.35 70.39 L397.35 65.59 Z"/><path d="M407.34 60.75 L411.74 63.15 L411.74 67.95 L407.34 70.35 L402.94 67.95 L402.94 63.15 Z"/><path d="M412.93 58.63 L417.33 61.03 L417.33 65.83 L412.93 68.23 L408.53 65.83 L408.53 61.03 Z"/><path d="M418.52 56.77 L422.92 59.17 L422.92 63.97 L418.52 66.37 L414.12 63.97 L414.12 59.17 Z"/><path d="M424.11 55.05 L428.51 57.45 L428.51 62.25 L424.11 64.65 L419.71 62.25 L419.71 57.45 Z"/><path d="M429.7 53.4 L434.1 55.8 L434.1 60.6 L429.7 63 L425.3 60.6 L425.3 55.8 Z"/><path d="M435.29 51.71 L439.69 54.11 L439.69 58.91 L435.29 61.31 L430.89 58.91 L430.89 54.11 Z"/><path d="M440.88 49.91 L445.28 52.31 L445.28 57.11 L440.88 59.51 L436.48 57.11 L436.48 52.31 Z"/><path d="M446.47 48.01 L450.87 50.41 L450.87 55.21 L446.47 57.61 L442.07 55.21 L442.07 50.41 Z"/><path d="M452.06 46.07 L456.46 48.47 L456.46 53.27 L452.06 55.67 L447.66 53.27 L447.66 48.47 Z"/><path d="M457.65 44.07 L462.05 46.47 L462.05 51.27 L457.65 53.67 L453.25 51.27 L453.25 46.47 Z"/><path d="M463.24 41.99 L467.64 44.39 L467.64 49.19 L463.24 51.59 L458.84 49.19 L458.84 44.39 Z"/><path d="M468.83 39.87 L473.23 42.27 L473.23 47.07 L468.83 49.47 L464.43 47.07 L464.43 42.27 Z"/><path d="M474.42 37.7 L478.82 40.1 L478.82 44.9 L474.42 47.3 L470.02 44.9 L470.02 40.1 Z"/><path d="M480.01 35.46 L484.41 37.86 L484.41 42.66 L480.01 45.06 L475.61 42.66 L475.61 37.86 Z"/><path d="M485.6 33.12 L490 35.52 L490 40.32 L485.6 42.72 L481.2 40.32 L481.2 35.52 Z"/><path d="M491.19 30.67 L495.59 33.07 L495.59 37.87 L491.19 40.27 L486.79 37.87 L486.79 33.07 Z"/><path d="M496.78 28.07 L501.18 30.47 L501.18 35.27 L496.78 37.67 L492.38 35.27 L492.38 30.47 Z"/><path d="M502.37 25.34 L506.77 27.74 L506.77 32.54 L502.37 34.94 L497.97 32.54 L497.97 27.74 Z"/><path d="M507.96 22.5 L512.36 24.9 L512.36 29.7 L507.96 32.1 L503.56 29.7 L503.56 24.9 Z"/><path d="M513.55 19.6 L517.95 22 L517.95 26.8 L513.55 29.2 L509.15 26.8 L509.15 22 Z"/><path d="M519.14 16.65 L523.54 19.05 L523.54 23.85 L519.14 26.25 L514.74 23.85 L514.74 19.05 Z"/><path d="M524.73 13.57 L529.13 15.97 L529.13 20.77 L524.73 23.17 L520.33 20.77 L520.33 15.97 Z"/><path d="M530.32 10.26 L534.72 12.66 L534.72 17.46 L530.32 19.86 L525.92 17.46 L525.92 12.66 Z"/><path d="M535.91 6.98 L540.31 9.38 L540.31 14.18 L535.91 16.58 L531.51 14.18 L531.51 9.38 Z"/><path d="M541.5 3.98 L545.9 6.38 L545.9 11.18 L541.5 13.58 L537.1 11.18 L537.1 6.38 Z"/></g>
</g>
<text x="219.5" y="208.4" font-size="15.2">Region</text><text x="270.1" y="208.4" font-size="15.2">I</text>
<text x="420" y="83" font-size="15.2">Region</text><text x="474.5" y="83" font-size="15.2">II</text>
<rect x="451.6" y="190.7" width="90.8" height="179.6" fill="#fff" stroke="#222" stroke-width="1.1"/>
<g font-size="17.4">
<g fill="#424242"><rect x="468.6" y="199.5" width="7.8" height="7.8"/></g>
<text x="496.3" y="208.5">200 K</text>
<g fill="#ea3a3c"><circle cx="472.6" cy="224.7" r="4.5"/></g>
<text x="496.3" y="230.7">220 K</text>
<g fill="#1e64dc"><path d="M473.1 242 L478.4 251 L467.8 251 Z"/></g>
<text x="496.3" y="252.9">240 K</text>
<g fill="#2ea064"><path d="M473.1 275.5 L478.4 266.5 L467.8 266.5 Z"/></g>
<text x="496.3" y="275.1">260 K</text>
<g fill="#a862e0"><path d="M473.1 286.7 L478.4 292.2 L473.1 297.7 L467.8 292.2 Z"/></g>
<text x="496.3" y="297.3">280 K</text>
<g fill="#cea014"><path d="M466.6 314.4 L476.2 309.1 L476.2 319.7 Z"/></g>
<text x="496.3" y="319.5">300 K</text>
<g fill="#1ec3c8"><path d="M479.4 336.6 L469.8 331.3 L469.8 341.9 Z"/></g>
<text x="496.3" y="341.7">320 K</text>
<g fill="#6c4040"><path d="M474.6 354 L479 356.4 L479 361.2 L474.6 363.6 L470.2 361.2 L470.2 356.4 Z"/></g>
<text x="496.3" y="363.9">340 K</text>
</g>
<path d="M115.6 377.8V385.6M227.7 377.8V385.6M339.8 377.8V385.6M451.9 377.8V385.6M95.5 377.8H88M95.5 263.3H88M95.5 148.8H88M95.5 34.3H88" stroke="#000" stroke-width="1.5" fill="none"/>
<path d="M98.24 377.8V381.3M104.74 377.8V381.3M110.47 377.8V381.3M149.35 377.8V381.3M169.09 377.8V381.3M183.09 377.8V381.3M193.95 377.8V381.3M202.83 377.8V381.3M210.34 377.8V381.3M216.84 377.8V381.3M222.57 377.8V381.3M261.45 377.8V381.3M281.19 377.8V381.3M295.19 377.8V381.3M306.05 377.8V381.3M314.93 377.8V381.3M322.44 377.8V381.3M328.94 377.8V381.3M334.67 377.8V381.3M373.55 377.8V381.3M393.29 377.8V381.3M407.29 377.8V381.3M418.15 377.8V381.3M427.03 377.8V381.3M434.54 377.8V381.3M441.04 377.8V381.3M446.77 377.8V381.3M485.65 377.8V381.3M505.39 377.8V381.3M519.39 377.8V381.3M530.25 377.8V381.3M539.13 377.8V381.3M546.64 377.8V381.3M95.5 343.33H91.2M95.5 323.17H91.2M95.5 308.86H91.2M95.5 297.77H91.2M95.5 288.7H91.2M95.5 281.04H91.2M95.5 274.4H91.2M95.5 268.54H91.2M95.5 228.83H91.2M95.5 208.67H91.2M95.5 194.36H91.2M95.5 183.27H91.2M95.5 174.2H91.2M95.5 166.54H91.2M95.5 159.9H91.2M95.5 154.04H91.2M95.5 114.33H91.2M95.5 94.17H91.2M95.5 79.86H91.2M95.5 68.77H91.2M95.5 59.7H91.2M95.5 52.04H91.2M95.5 45.4H91.2M95.5 39.54H91.2" stroke="#000" stroke-width="1.4" fill="none"/>
<rect x="95.5" y="2.9" width="451.7" height="374.9" fill="none" stroke="#000" stroke-width="1.5"/>
<g>
<text x="68.89" y="377" font-size="11.2">-11</text>
<text x="53.59" y="382.5" font-size="16">10</text>
<path d="M39.69 374L48.29 381.6M39.69 381.6L48.29 374" stroke="#000" stroke-width="1.1" fill="none"/>
<text x="25.99" y="382.5" font-size="16">1</text>
<text x="68.27" y="262.5" font-size="11.2">-10</text>
<text x="52.97" y="268" font-size="16">10</text>
<path d="M39.07 259.5L47.67 267.1M39.07 267.1L47.67 259.5" stroke="#000" stroke-width="1.1" fill="none"/>
<text x="25.37" y="268" font-size="16">1</text>
<text x="73.87" y="148" font-size="11.2">-9</text>
<text x="58.57" y="153.5" font-size="16">10</text>
<path d="M44.67 145L53.27 152.6M44.67 152.6L53.27 145" stroke="#000" stroke-width="1.1" fill="none"/>
<text x="30.97" y="153.5" font-size="16">1</text>
<text x="73.87" y="33.5" font-size="11.2">-8</text>
<text x="58.57" y="39" font-size="16">10</text>
<path d="M44.67 30.5L53.27 38.1M44.67 38.1L53.27 30.5" stroke="#000" stroke-width="1.1" fill="none"/>
<text x="30.97" y="39" font-size="16">1</text>
</g>
<g>
<text x="105.35" y="405" font-size="16.3">10</text>
<text x="121.75" y="398.5" font-size="9.8">3</text>
<text x="217.45" y="405" font-size="16.3">10</text>
<text x="233.85" y="398.5" font-size="9.8">4</text>
<text x="329.55" y="405" font-size="16.3">10</text>
<text x="345.95" y="398.5" font-size="9.8">5</text>
<text x="441.65" y="405" font-size="16.3">10</text>
<text x="458.05" y="398.5" font-size="9.8">6</text>
</g>
<text x="247.6" y="427.9" font-size="19">Frequency (Hz)</text>
<text transform="translate(24.70,243.10) rotate(-90)" font-family="Liberation Serif" font-weight="normal" font-size="19.5">&#963;</text>
<text transform="translate(24.50,226.30) rotate(-90)" font-family="Liberation Serif" font-weight="normal" font-size="15.5">(</text>
<text transform="translate(24.60,221.30) rotate(-90)" font-family="Liberation Serif" font-weight="normal" font-size="20.5">&#937;</text>
<text transform="translate(16.20,205.10) rotate(-90)" font-family="Liberation Serif" font-weight="normal" font-size="16">&#8722;</text>
<text transform="translate(14.00,195.80) rotate(-90)" font-family="Liberation Serif" font-weight="normal" font-size="15.5">1</text>
<text transform="translate(25.70,185.80) rotate(-90)" font-family="Liberation Sans" font-weight="bold" font-size="20">cm</text>
<text transform="translate(15.50,156.50) rotate(-90)" font-family="Liberation Sans" font-weight="bold" font-size="13">&#8722;</text>
<text transform="translate(13.80,147.50) rotate(-90)" font-family="Liberation Sans" font-weight="bold" font-size="14">1</text>
<text transform="translate(24.70,139.30) rotate(-90)" font-family="Liberation Serif" font-weight="normal" font-size="17">)</text>
</svg>
</body></html>
